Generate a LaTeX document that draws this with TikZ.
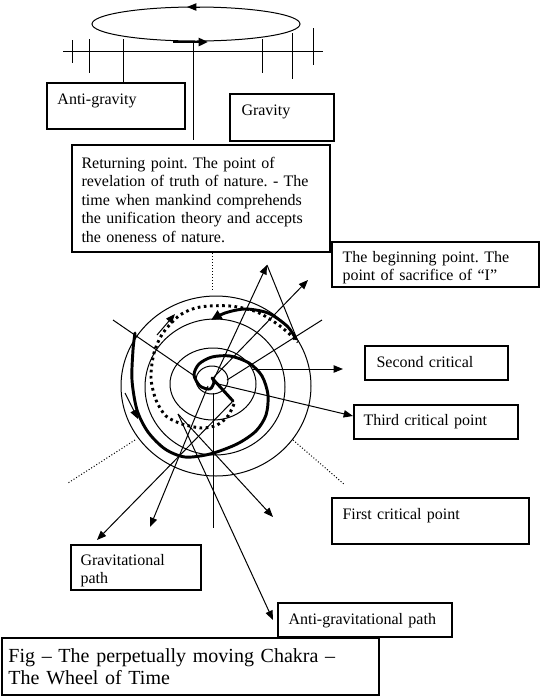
\documentclass[tikz,border=0pt]{standalone}
\usepackage{fontspec}
\setmainfont{Liberation Serif}
\usetikzlibrary{arrows.meta,fit,shapes.geometric}
\frenchspacing
\begin{document}
\begin{tikzpicture}[x=0.75pt,y=-0.75pt,line width=0.75pt,
  arw/.style={-{Triangle[length=7pt,width=5.5pt]}},
  boxst/.style={draw,inner sep=0pt,line width=0.9pt},
  lbl/.style={anchor=base west,inner sep=0pt,font=\fontsize{12}{13.9}\selectfont,text width=250pt,align=left},
  caplbl/.style={anchor=base west,inner sep=0pt,font=\fontsize{15}{16.5}\selectfont,text width=300pt,align=left},
  thickp/.style={line width=2.2pt,line join=round,line cap=round},
  dotp/.style={line width=2.2pt,dash pattern=on 2pt off 2.6pt},
  finedots/.style={dash pattern=on 0.75pt off 1.5pt}]
\useasboundingbox (0,0) rectangle (541,697);
\fill[white] (0,0) rectangle (541,697);

% ---------- top orbit ----------
\node[draw,ellipse,minimum width=156pt,minimum height=25.5pt,inner sep=0pt] (orbit) at (196,24) {};
\coordinate (otA) at (200,7); \coordinate (otB) at (187,7);
\draw[arw] (otA) -- (otB);
\coordinate (obA) at (173,42); \coordinate (obB) at (208,42);
\draw[line width=1.8pt,-{Triangle[length=7pt,width=6pt]}] (obA) -- (obB);

% axis and ticks
\coordinate (hL) at (63,51); \coordinate (hR) at (323,51);
\draw (hL) -- (hR);
\draw (72,40) -- (72,63);
\draw (89,39) -- (89,73);
\draw (262,39) -- (262,73);
\draw (292,33) -- (292,79);
\draw (313,28) -- (313,65);

% ---------- boxes ----------
\node[boxst,fit={(47,83) (185,129)}] (ag) {};
\node[boxst,fit={(230,94) (334,141)}] (gr) {};
\node[boxst,fit={(72,145) (330,252)}] (ret) {};
\node[boxst,fit={(332,242) (539,287)}] (beg) {};
\node[boxst,fit={(365,346) (508,380)}] (sec) {};
\node[boxst,fit={(354,405) (518,439)}] (thi) {};
\node[boxst,fit={(332,498) (529,544)}] (fir) {};
\node[boxst,fit={(71,545) (201,590)}] (gpath) {};
\node[boxst,fit={(278,603) (452,637)}] (apath) {};
\node[boxst,fit={(2,638) (379,695)}] (cap) {};

\draw (123,39) -- (ag.north -| 123,0);
\coordinate (ctop) at (193,42);
\draw (ctop) -- (193,140);

% ---------- texts ----------
\node[lbl] (agt) at (57,104) {Anti-gravity};
\node[lbl] (grt) at (241,115) {Gravity};
\node[lbl] (rett) at (81,168) {Returning point. The point of\\revelation of truth of nature. - The\\time when mankind comprehends\\the unification theory and accepts\\the oneness of nature.};
\node[lbl] (begt) at (342,262) {The beginning point. The\\point of sacrifice of “I”};
\node[lbl] (sect) at (376,367) {Second critical};
\node[lbl] (thit) at (363,425) {Third critical point};
\node[lbl] (firt) at (342,519) {First critical point};
\node[lbl] (gpatht) at (80,565) {Gravitational\\path};
\node[lbl] (apatht) at (288,624) {Anti-gravitational path};
\node[caplbl] (capt) at (8,662) {Fig – The perpetually moving Chakra –\\The Wheel of Time};

% ---------- wheel ----------
\coordinate (O) at (212,380);
\draw (216,386) ellipse [x radius=95,y radius=90];
\draw (215,387) ellipse [x radius=70,y radius=68];
\draw (213,384) ellipse [x radius=43,y radius=36];
\draw (212,380) ellipse [x radius=16,y radius=14];

% dotted guide lines
\coordinate (dT1) at (212,253); \coordinate (dT2) at (212,290);
\draw[finedots] (dT1) -- (dT2);
\coordinate (dL1) at (135,440); \coordinate (dL2) at (68,483);
\draw[finedots] (dL1) -- (dL2);
\coordinate (dR1) at (293,440); \coordinate (dR2) at (345,485);
\draw[finedots] (dR1) -- (dR2);

% radial lines
\coordinate (ul) at (113,320); \coordinate (ulE) at (196,377);
\draw (ul) -- (ulE);
\coordinate (aS) at (214,379); \coordinate (aT) at (267,265);
\draw[arw] (aS) -- (aT);
\coordinate (bp) at (297,339);
\draw (bp) -- (aT);
\coordinate (bS) at (213,378); \coordinate (bT) at (308,280);
\draw[arw] (bS) -- (bT);
\coordinate (urS) at (227,380); \coordinate (urE) at (322,320);
\draw (urS) -- (urE);
\coordinate (hS) at (252,369); \coordinate (hT) at (343,369);
\draw[arw] (hS) -- (hT);
\coordinate (tS) at (214,383); \coordinate (tT) at (353,416);
\draw[arw] (tS) -- (tT);
\coordinate (vS) at (213,393); \coordinate (vE) at (213,528);
\draw (vS) -- (vE);
\coordinate (dS) at (208,386); \coordinate (dT) at (150,527);
\draw[arw] (dS) -- (dT);
\coordinate (hookE) at (233,401); \coordinate (cT) at (97,540);
\draw[arw] (hookE) -- (cT);
\coordinate (fork) at (178,414); \coordinate (eT) at (273,517); \coordinate (fT) at (273,620);
\draw[arw] (fork) -- (eT);
\draw[arw] (fork) -- (fT);

% thick path
\draw[thickp,-{Triangle[length=8pt,width=7pt]}] plot[smooth] coordinates {(296,339) (287,326) (268,313) (245,309) (225,313) (211,320)};
\draw[thickp] plot[smooth] coordinates {(135,333) (133,350) (132,380) (137,410) (148,432) (165,449) (185,457) (210,454) (237,444) (256,431) (266,415) (268,395) (262,376) (249,363) (230,356) (212,357) (199,364) (194,375) (200,386) (210,389) (214,382) (212,378)} -- (hookE);

% dotted path
\draw[dotp] plot[smooth] coordinates {(234,404) (228,416) (217,425) (202,428) (182,424) (166,416) (156,400) (151,378) (154,353) (163,333) (180,315) (200,307) (230,306) (257,312) (280,326) (298,342)};

% small direction arrows
\coordinate (sa1) at (157,335); \coordinate (sa2) at (175,314);
\draw[arw] (sa1) -- (sa2);
\coordinate (sb1) at (125,393); \coordinate (sb2) at (138,419);
\draw[arw] (sb1) -- (sb2);
\end{tikzpicture}
\end{document}
